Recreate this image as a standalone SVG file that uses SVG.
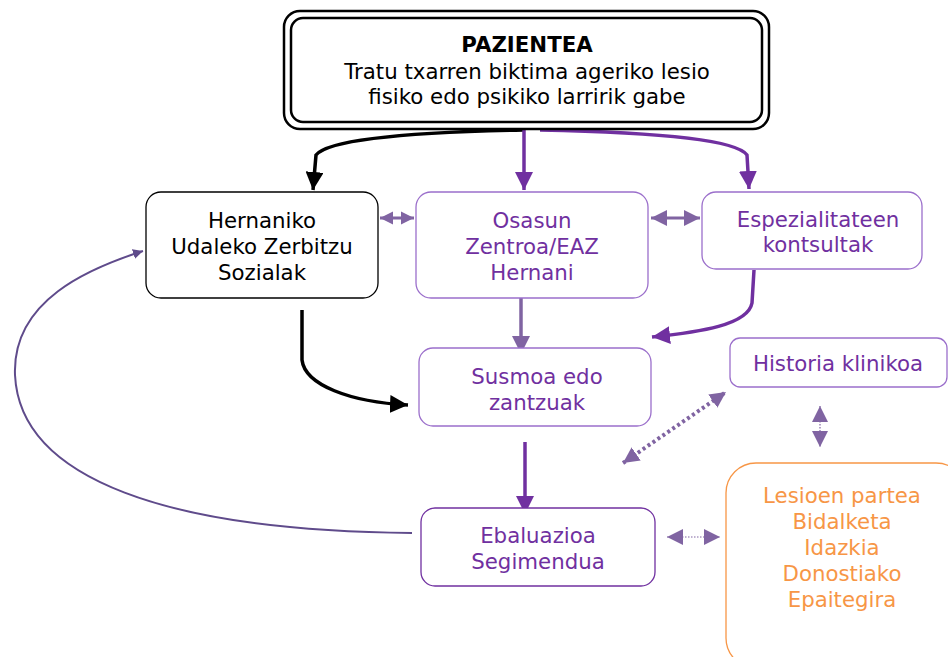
<svg xmlns="http://www.w3.org/2000/svg" width="948" height="657" viewBox="0 0 948 657">
<style>
text{font-family:"DejaVu Sans",Verdana,sans-serif;font-size:21.3px;text-anchor:middle}
.blk{fill:#000}
.pur{fill:#7030a0}
.org{fill:#f79646}
.box{fill:#fff;stroke-width:1.3}
</style>
<defs>
<marker id="ab" viewBox="0 0 10 10" refX="10" refY="5" markerWidth="18" markerHeight="18" markerUnits="userSpaceOnUse" orient="auto"><path d="M0,0L10,5L0,10z" fill="#000"/></marker>
<marker id="ap" viewBox="0 0 10 10" refX="10" refY="5" markerWidth="18" markerHeight="18" markerUnits="userSpaceOnUse" orient="auto"><path d="M0,0L10,5L0,10z" fill="#7030a0"/></marker>
<marker id="al" viewBox="0 0 10 10" refX="10" refY="5" markerWidth="18" markerHeight="18" markerUnits="userSpaceOnUse" orient="auto"><path d="M0,0L10,5L0,10z" fill="#8064a2"/></marker>
<marker id="als" viewBox="0 0 10 10" refX="10" refY="5" markerWidth="16" markerHeight="16" markerUnits="userSpaceOnUse" orient="auto-start-reverse"><path d="M0,0L10,5L0,10z" fill="#8064a2"/></marker>
<marker id="als2" viewBox="0 0 10 10" refX="10" refY="5" markerWidth="13" markerHeight="14" markerUnits="userSpaceOnUse" orient="auto-start-reverse"><path d="M0,0L10,5L0,10z" fill="#8064a2"/></marker>
<marker id="at" viewBox="0 0 10 10" refX="10" refY="5" markerWidth="10" markerHeight="10" markerUnits="userSpaceOnUse" orient="auto"><path d="M0,0L10,5L0,10z" fill="#5f4b8b"/></marker>
</defs>
<rect width="948" height="657" fill="#fff"/>
<g id="connectors" fill="none">
<path d="M523,130 C420,132 330,138 316,155 L313,190" stroke="#000" stroke-width="3.5" marker-end="url(#ab)"/>
<path d="M524,130 L524,190" stroke="#7030a0" stroke-width="3.5" marker-end="url(#ap)"/>
<path d="M540,130 C640,132 735,138 747,155 L749,189" stroke="#7030a0" stroke-width="3.5" marker-end="url(#ap)"/>
<path d="M380,218 L414,218" stroke="#8064a2" stroke-width="3" marker-start="url(#als2)" marker-end="url(#als2)"/>
<path d="M651,218 L700,218" stroke="#8064a2" stroke-width="3" marker-start="url(#als)" marker-end="url(#als)"/>
<path d="M754,270 L752,303 C748,325 700,332 652,337" stroke="#7030a0" stroke-width="3.5" marker-end="url(#ap)"/>
<path d="M521,298 L521,354" stroke="#8064a2" stroke-width="3.5" marker-end="url(#al)"/>
<path d="M302,310 L302,360 C305,385 350,402 408,405" stroke="#000" stroke-width="3.5" marker-end="url(#ab)"/>
<path d="M623,463 L726,392" stroke="#8064a2" stroke-width="4" stroke-dasharray="3,3" marker-start="url(#als)" marker-end="url(#als)"/>
<path d="M525,442 L525,514" stroke="#7030a0" stroke-width="3.5" marker-end="url(#ap)"/>
<path d="M820,406 L820,447" stroke="#8064a2" stroke-width="1.2" stroke-dasharray="1.5,1.5" marker-start="url(#als)" marker-end="url(#als)"/>
<path d="M667,537 L720,537" stroke="#8064a2" stroke-width="1.2" stroke-dasharray="1.5,1.5" marker-start="url(#als)" marker-end="url(#als)"/>
<path d="M412,533 C170,531 20,480 15,375 C12,300 90,268 143,251" stroke="#5f4b8b" stroke-width="2" marker-end="url(#at)"/>
</g>
<g id="pazientea">
<rect x="284" y="11" width="485" height="118" rx="16" fill="#fff" stroke="#000" stroke-width="2.5"/>
<rect x="291" y="18" width="471" height="104" rx="12" fill="none" stroke="#000" stroke-width="2.5"/>
<text x="527" y="52" class="blk" font-weight="bold">PAZIENTEA</text>
<text x="527" y="79" class="blk">Tratu txarren biktima ageriko lesio</text>
<text x="527" y="104" class="blk">fisiko edo psikiko larririk gabe</text>
</g>
<g id="hernaniko">
<rect x="146" y="192" width="232" height="106" rx="15" class="box" stroke="#000"/>
<text x="262" y="228" class="blk">Hernaniko</text>
<text x="262" y="254" class="blk">Udaleko Zerbitzu</text>
<text x="262" y="280" class="blk">Sozialak</text>
</g>
<g id="osasun">
<rect x="416" y="192" width="232" height="106" rx="15" class="box" stroke="#9b6fcb"/>
<text x="532" y="228" class="pur">Osasun</text>
<text x="532" y="254" class="pur">Zentroa/EAZ</text>
<text x="532" y="280" class="pur">Hernani</text>
</g>
<g id="espezialitateen">
<rect x="702" y="192" width="220" height="77" rx="14" class="box" stroke="#9b6fcb"/>
<text x="818" y="227" class="pur">Espezialitateen</text>
<text x="818" y="252" class="pur">kontsultak</text>
</g>
<g id="susmoa">
<rect x="419" y="348" width="232" height="78" rx="14" class="box" stroke="#9b6fcb"/>
<text x="537" y="384" class="pur">Susmoa edo</text>
<text x="537" y="410" class="pur">zantzuak</text>
</g>
<g id="historia">
<rect x="730" y="338" width="217" height="49" rx="10" class="box" stroke="#9b6fcb"/>
<text x="838" y="371" class="pur">Historia klinikoa</text>
</g>
<g id="ebaluazioa">
<rect x="421" y="508" width="234" height="78" rx="14" class="box" stroke="#7030a0"/>
<text x="538" y="543" class="pur">Ebaluazioa</text>
<text x="538" y="569" class="pur">Segimendua</text>
</g>
<g id="lesioen">
<rect x="726" y="463" width="240" height="205" rx="30" class="box" stroke="#f79646"/>
<text x="842" y="503" class="org">Lesioen partea</text>
<text x="842" y="529" class="org">Bidalketa</text>
<text x="842" y="555" class="org">Idazkia</text>
<text x="842" y="581" class="org">Donostiako</text>
<text x="842" y="607" class="org">Epaitegira</text>
</g>
</svg>
